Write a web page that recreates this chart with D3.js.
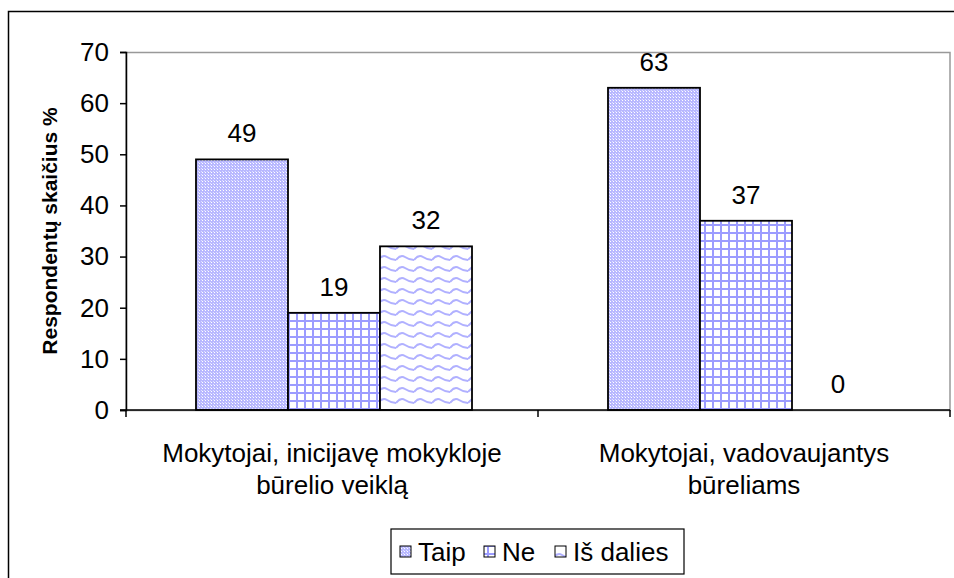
<!DOCTYPE html>
<html>
<head>
<meta charset="utf-8">
<script src="https://cdn.jsdelivr.net/npm/d3@7"></script>
<style>
  body { margin: 0; background: #fff; }
  text { font-family: "Liberation Sans", Arial, sans-serif; fill: #000; }
</style>
</head>
<body>
<svg id="chart" width="954" height="578"></svg>
<script>
// duomenys
var categories = [['Mokytojai, inicijavę mokykloje', 'būrelio veiklą'], ['Mokytojai, vadovaujantys', 'būreliams']];
var series = ['Taip', 'Ne', 'Iš dalies'];
var taip = [49, 63];
var ne = [19, 37];
var isDalies = [32, 0];
var yTicks = [0, 10, 20, 30, 40, 50, 60, 70];
var yTitle = 'Respondentų skaičius %';

var svg = d3.select('#chart');
var defs = svg.append('defs');

// raštai stulpeliams
var p1 = defs.append('pattern').attr('id', 'pTaip').attr('patternUnits', 'userSpaceOnUse')
  .attr('width', 3).attr('height', 3);
p1.append('rect').attr('width', 3).attr('height', 3).attr('fill', '#b8b8ff');
p1.append('rect').attr('x', 1).attr('y', 1).attr('width', 1).attr('height', 1).attr('fill', '#fff');
p1.append('rect').attr('x', 0).attr('y', 0).attr('width', 1).attr('height', 1).attr('fill', '#e0e0ff');

var p2 = defs.append('pattern').attr('id', 'pNe').attr('patternUnits', 'userSpaceOnUse')
  .attr('width', 8).attr('height', 8);
p2.append('rect').attr('width', 8).attr('height', 8).attr('fill', '#fff');
p2.append('rect').attr('x', 0).attr('y', 0).attr('width', 8).attr('height', 2).attr('fill', '#9c9cff');
p2.append('rect').attr('x', 0).attr('y', 0).attr('width', 2).attr('height', 8).attr('fill', '#9c9cff');

var p3 = defs.append('pattern').attr('id', 'pDal').attr('patternUnits', 'userSpaceOnUse')
  .attr('width', 18).attr('height', 11);
p3.append('rect').attr('width', 18).attr('height', 11).attr('fill', '#fff');
p3.append('path').attr('d', 'M0,7 Q4.5,1 9,4 T18,7').attr('fill', 'none')
  .attr('stroke', '#b0b0ff').attr('stroke-width', 2);

var fills = ['url(#pTaip)', 'url(#pNe)', 'url(#pDal)'];

// rėmelis
svg.append('rect').attr('x', 8.5).attr('y', 11.5).attr('width', 1000).attr('height', 700)
  .attr('fill', 'none').attr('stroke', '#000').attr('stroke-width', 1.5);

var plot = { left: 126, right: 950, top: 52, bottom: 410 };

var x0 = d3.scaleBand().domain(d3.range(categories.length)).range([plot.left, plot.right]).paddingInner(0).paddingOuter(0);
var x1 = d3.scaleBand().domain(series).range([70, x0.bandwidth() - 66]);
var y = d3.scaleLinear().domain([0, 70]).range([plot.bottom, plot.top]);

// braižymo srities rėmelis
svg.append('rect').attr('x', plot.left).attr('y', plot.top + 0.5)
  .attr('width', plot.right - plot.left).attr('height', plot.bottom - plot.top)
  .attr('fill', 'none').attr('stroke', '#999').attr('stroke-width', 1.5);

var rows = categories.map(function (c, i) {
  return [taip[i], ne[i], isDalies[i]];
});

var g = svg.append('g');
rows.forEach(function (vals, i) {
  vals.forEach(function (v, j) {
    var bx = x0(i) + x1(series[j]);
    if (v > 0) {
      g.append('rect').attr('x', bx).attr('y', y(v))
        .attr('width', x1.bandwidth()).attr('height', y(0) - y(v))
        .attr('fill', fills[j]).attr('stroke', '#000').attr('stroke-width', 1.8);
    }
    g.append('text').attr('x', bx + x1.bandwidth() / 2).attr('y', y(v) - 17)
      .attr('text-anchor', 'middle').style('font-size', '26px').text(v);
  });
});

// ašys
var yAxis = d3.axisLeft(y).tickValues(yTicks).tickSize(6).tickPadding(11);
var ya = svg.append('g').attr('transform', 'translate(' + plot.left + ',0)').call(yAxis);
ya.select('.domain').attr('stroke', '#000').attr('stroke-width', 1.5);
ya.selectAll('line').attr('stroke', '#000').attr('stroke-width', 1.5);
ya.selectAll('text').style('font-size', '26px').style('font-family', '"Liberation Sans", Arial, sans-serif').attr('fill', '#000');

svg.append('line').attr('x1', plot.left - 6).attr('x2', plot.right).attr('y1', y(0)).attr('y2', y(0))
  .attr('stroke', '#000').attr('stroke-width', 1.5);
d3.range(categories.length + 1).forEach(function (i) {
  var tx = plot.left + i * x0.bandwidth();
  svg.append('line').attr('x1', tx).attr('x2', tx).attr('y1', y(0)).attr('y2', y(0) + 7)
    .attr('stroke', '#000').attr('stroke-width', 1.5);
});

categories.forEach(function (lines, i) {
  var t = svg.append('text').attr('text-anchor', 'middle').style('font-size', '26px');
  lines.forEach(function (ln, k) {
    t.append('tspan').attr('x', x0(i) + x0.bandwidth() / 2).attr('y', 462 + k * 32).text(ln);
  });
});

svg.append('text').attr('transform', 'translate(57,' + ((plot.top + plot.bottom) / 2) + ') rotate(-90)')
  .attr('text-anchor', 'middle').style('font-size', '21px').style('font-weight', 'bold').text(yTitle);

// legenda
var leg = svg.append('g').attr('transform', 'translate(391,529)');
leg.append('rect').attr('width', 293).attr('height', 45).attr('fill', '#fff')
  .attr('stroke', '#000').attr('stroke-width', 1.2);
var legX = [9, 93, 164];
series.forEach(function (s, j) {
  leg.append('rect').attr('x', legX[j]).attr('y', 17).attr('width', 11).attr('height', 11)
    .attr('fill', fills[j]).attr('stroke', '#000').attr('stroke-width', 1);
  leg.append('text').attr('x', legX[j] + 18).attr('y', 32).style('font-size', '26px').text(s);
});
</script>
</body>
</html>
